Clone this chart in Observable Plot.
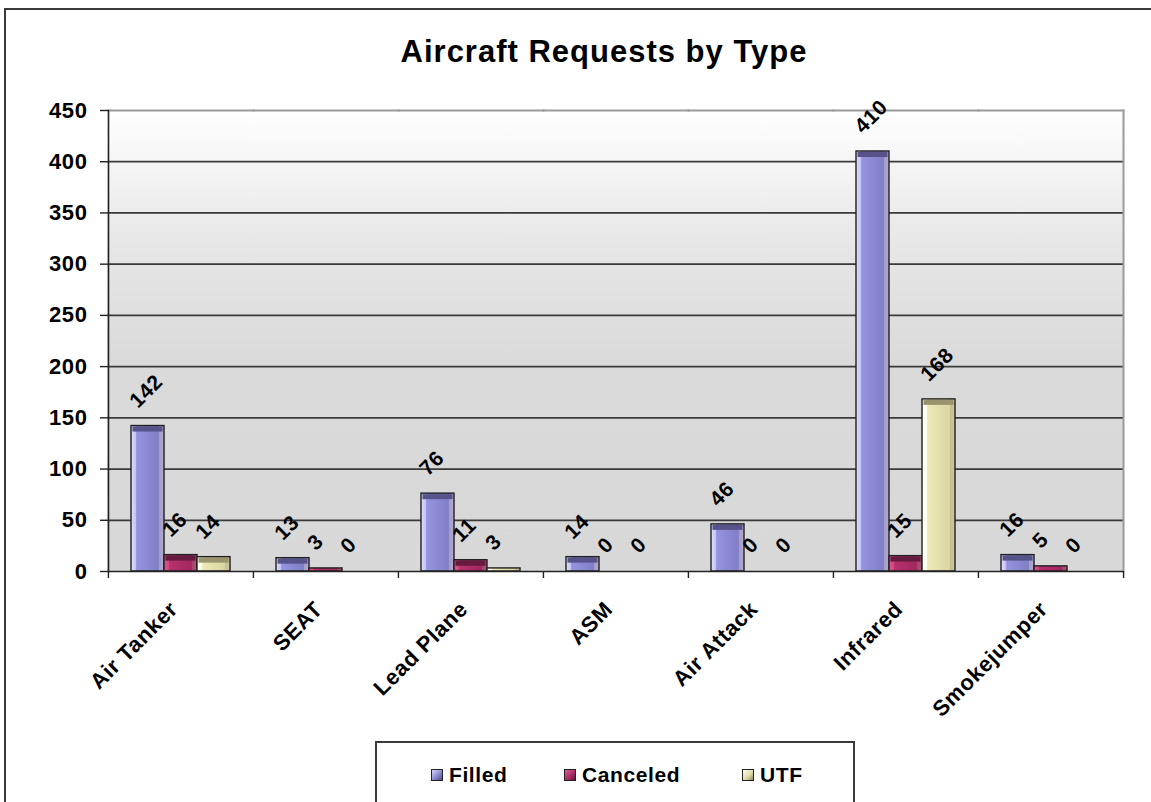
<!DOCTYPE html>
<html>
<head>
<meta charset="utf-8">
<script src="https://cdn.jsdelivr.net/npm/d3@7"></script>
<script src="https://cdn.jsdelivr.net/npm/@observablehq/plot@0.6"></script>
<style>
  html, body { margin: 0; padding: 0; background: #fff; }
  #wrap { position: relative; width: 1151px; height: 802px; overflow: hidden; background: #fff;
          font-family: "Liberation Sans", Arial, sans-serif; }
  #border { position: absolute; left: 4px; top: 8px; width: 1170px; height: 900px; border: 2px solid #3a3a3a; box-sizing: border-box; }
  #title { position: absolute; left: 0; top: 34px; width: 1208px; text-align: center; font-weight: bold;
           font-size: 31px; line-height: 36px; letter-spacing: 1px; color: #000; }
  #plotbg { position: absolute; left: 107px; top: 110px; width: 1016px; height: 461px;
            background: linear-gradient(to bottom, #ffffff 0%, #e6e6e6 30%, #dadada 55%, #d8d8d8 100%); }
  #chart { position: absolute; left: 0; top: 0; }
  #legend { position: absolute; left: 375px; top: 741px; width: 480px; height: 100px; border: 2px solid #3a3a3a;
            box-sizing: border-box; background: #fff; }
  .item { position: absolute; top: 19px; display: flex; align-items: center; font-weight: bold; font-size: 21px;
          letter-spacing: 0.6px; color: #000; line-height: 26px; }
  .sw { width: 12px; height: 12px; border: 1px solid #222; margin-right: 6px; box-sizing: border-box; }
</style>
</head>
<body>
<svg width="0" height="0" style="position:absolute">
  <defs>
    <linearGradient id="g0" x1="0" y1="0" x2="1" y2="0">
      <stop offset="0" stop-color="#dedeff"/>
      <stop offset="0.14" stop-color="#c4c4f4"/>
      <stop offset="0.17" stop-color="#9694e0"/>
      <stop offset="0.83" stop-color="#807ec6"/>
      <stop offset="0.86" stop-color="#a49ec8"/>
      <stop offset="1" stop-color="#b0aad0"/>
    </linearGradient>
    <linearGradient id="g1" x1="0" y1="0" x2="1" y2="0">
      <stop offset="0" stop-color="#e05590"/>
      <stop offset="0.14" stop-color="#cf4682"/>
      <stop offset="0.17" stop-color="#b8316c"/>
      <stop offset="0.83" stop-color="#a2285f"/>
      <stop offset="0.86" stop-color="#a4456b"/>
      <stop offset="1" stop-color="#ae5576"/>
    </linearGradient>
    <linearGradient id="g2" x1="0" y1="0" x2="1" y2="0">
      <stop offset="0" stop-color="#fffff4"/>
      <stop offset="0.14" stop-color="#fffff0"/>
      <stop offset="0.17" stop-color="#eceab8"/>
      <stop offset="0.83" stop-color="#dad6a2"/>
      <stop offset="0.86" stop-color="#c4be94"/>
      <stop offset="1" stop-color="#cec89c"/>
    </linearGradient>
  </defs>
</svg>
<div id="wrap">
  <div id="border"></div>
  <div id="title">Aircraft Requests by Type</div>
  <div id="plotbg"></div>
  <div id="chart"></div>
  <div id="legend"></div>
</div>
<script>
// ---- data ----
const categories = ["Air Tanker", "SEAT", "Lead Plane", "ASM", "Air Attack", "Infrared", "Smokejumper"];
const series = ["Filled", "Canceled", "UTF"];
const filled   = [142, 13, 76, 14, 46, 410, 16];
const canceled = [16, 3, 11, 0, 0, 15, 5];
const utf      = [14, 0, 3, 0, 0, 168, 0];
const yTicks = [0, 50, 100, 150, 200, 250, 300, 350, 400, 450];

// ---- styling ----
const seriesFill = ["url(#g0)", "url(#g1)", "url(#g2)"];
const seriesTop  = ["#55538a", "#661a3e", "#9a946c"];
const legendSwatch = ["linear-gradient(135deg,#d8d8ff,#8482cc 60%,#4e4c7c)",
                      "linear-gradient(135deg,#e45b95,#a52a62 60%,#5c1636)",
                      "linear-gradient(135deg,#fffff4,#dcd8a4 60%,#8e8866)"];

const valuesBySeries = [filled, canceled, utf];
const rows = [];
series.forEach((s, si) => categories.forEach((c, ci) => rows.push({category: c, series: s, si, value: valuesBySeries[si][ci]})));

const W = 1151, H = 802, mL = 107, mR = 28, mT = 110, mB = 231;
const band = (W - mL - mR) / categories.length;

const marks = [
  Plot.gridY({ticks: yTicks.filter(t => t > 0 && t < 450), stroke: "#3a3a3a", strokeOpacity: 1, strokeWidth: 1.8}),
  Plot.frame({anchor: "top", stroke: "#9a9a9a", strokeWidth: 2}),
  Plot.frame({anchor: "right", facetAnchor: "right", stroke: "#9a9a9a", strokeWidth: 2})
];
series.forEach((s, si) => {
  const d = rows.filter(r => r.series === s);
  marks.push(Plot.barY(d, {fx: "category", x: "series", y: "value", fill: seriesFill[si], stroke: null}));
  marks.push(Plot.tickY(d.filter(r => r.value >= 6), {fx: "category", x: "series", y: "value",
    stroke: seriesTop[si], strokeWidth: 5, dy: 3, insetLeft: 1.5, insetRight: 1.5}));
  marks.push(Plot.barY(d.filter(r => r.value > 0), {fx: "category", x: "series", y: "value", fill: "none", stroke: "#1e1e1e", strokeWidth: 1.4}));
});
marks.push(
  Plot.ruleY([0], {stroke: "#222", strokeWidth: 1.6}),
  Plot.frame({anchor: "left", facetAnchor: "left", stroke: "#222", strokeWidth: 1.6}),
  Plot.axisY({ticks: yTicks, tickSize: 8, tickPadding: 13, fontSize: 22, label: null, stroke: "#222", strokeWidth: 1.4}),
  Plot.axisFx({anchor: "bottom", tickRotate: -45, tickSize: 0, tickPadding: 34, dx: -7, fontSize: 22, label: null}),
  Plot.axisFx({anchor: "bottom", tickSize: 7, tickFormat: () => "", dx: -band / 2, label: null, stroke: "#222", strokeWidth: 1.4}),
  Plot.axisFx({anchor: "bottom", ticks: [categories[categories.length - 1]], tickSize: 7, tickFormat: () => "", dx: band / 2, label: null, stroke: "#222", strokeWidth: 1.4}),
  Plot.text(rows, {fx: "category", x: "series", y: "value", text: d => String(d.value), rotate: -45,
    textAnchor: "start", lineAnchor: "bottom", dx: -10, dy: -17, fontSize: 21, fill: "#000"})
);

const chart = Plot.plot({
  width: W, height: H,
  marginLeft: mL, marginRight: mR, marginTop: mT, marginBottom: mB,
  style: {fontFamily: "'Liberation Sans', Arial, sans-serif", fontWeight: "bold", letterSpacing: "0.6px",
          background: "transparent", color: "#000", overflow: "visible"},
  fx: {domain: categories, padding: 0, label: null},
  x: {domain: series, paddingInner: 0, paddingOuter: 0.65, axis: null},
  y: {domain: [0, 450], label: null},
  marks
});
document.getElementById("chart").appendChild(chart);

// ---- legend ----
const legend = document.getElementById("legend");
const legendLeft = [54, 187, 365];
series.forEach((s, i) => {
  const it = document.createElement("div");
  it.className = "item";
  it.style.left = legendLeft[i] + "px";
  const sw = document.createElement("span");
  sw.className = "sw";
  sw.style.background = legendSwatch[i];
  const tx = document.createElement("span");
  tx.textContent = s;
  it.appendChild(sw); it.appendChild(tx);
  legend.appendChild(it);
});
</script>
</body>
</html>
